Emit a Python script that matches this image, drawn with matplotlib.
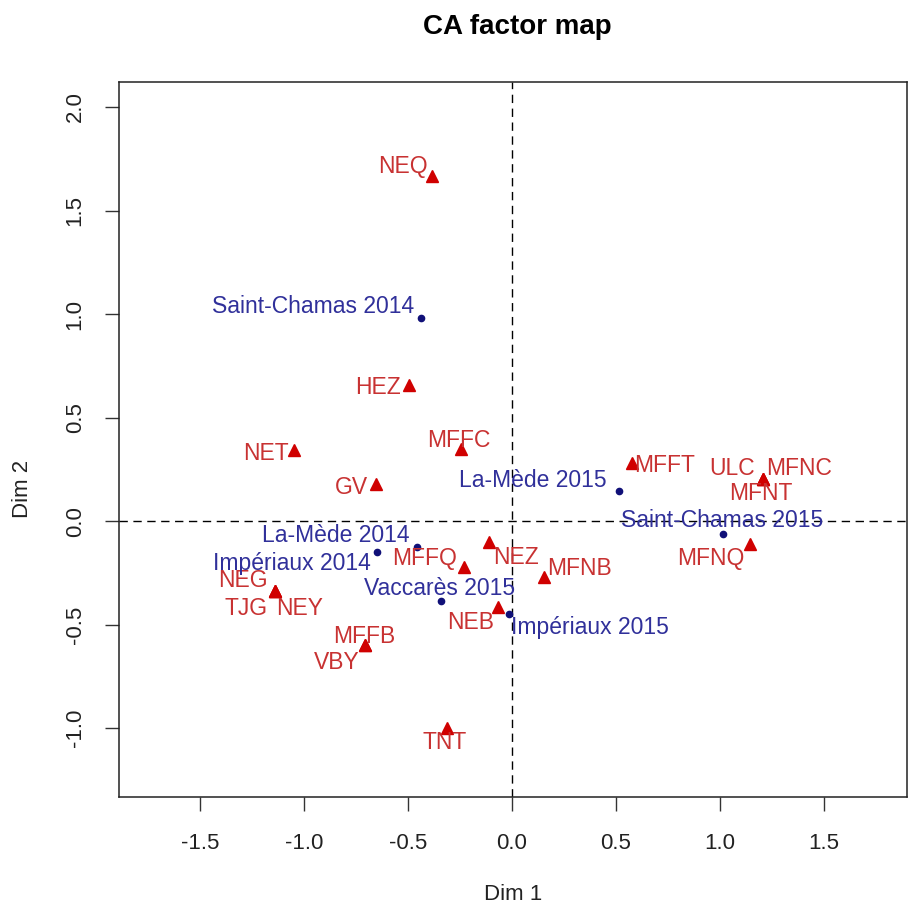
import matplotlib
matplotlib.use("Agg")
import matplotlib.pyplot as plt

# row points (site / year)
row_names = ["Saint-Chamas 2014", "La-Mède 2014", "Impériaux 2014", "Vaccarès 2015",
             "Impériaux 2015", "La-Mède 2015", "Saint-Chamas 2015"]
row_dim1 = [-0.437, -0.457, -0.649, -0.341, -0.014, 0.514, 1.014]
row_dim2 = [0.981, -0.126, -0.150, -0.386, -0.449, 0.145, -0.063]

# column points (species codes)
col_names = ["NEQ", "HEZ", "NET", "MFFC", "GV", "MFFQ", "NEZ", "NEG", "TJG", "NEY",
             "NEB", "MFFB", "VBY", "MFNB", "MFFT", "ULC", "MFNC", "MFNT", "MFNQ", "TNT"]
col_dim1 = [-0.385, -0.495, -1.048, -0.245, -0.654, -0.231, -0.111, -1.139, -1.139, -1.139,
            -0.067, -0.707, -0.707, 0.154, 0.577, 1.207, 1.207, 1.207, 1.144, -0.313]
col_dim2 = [1.667, 0.657, 0.343, 0.348, 0.179, -0.222, -0.101, -0.338, -0.338, -0.338,
            -0.415, -0.599, -0.599, -0.271, 0.280, 0.203, 0.203, 0.203, -0.111, -1.000]

# label placement: (dx px, dy px, alignment) relative to each point
label_pos = {
    "Saint-Chamas 2014": (-7, 11, "right"), "La-Mède 2014": (-7, 12, "right"),
    "Impériaux 2014": (-6, -11, "right"), "Vaccarès 2015": (-1, 12, "center"),
    "Impériaux 2015": (2, -13, "left"), "La-Mède 2015": (-12, 11, "right"),
    "Saint-Chamas 2015": (-1, 14, "center"),
    "NEQ": (-4, 9, "right"), "HEZ": (-8, -2, "right"), "NET": (-5, -3, "right"),
    "MFFC": (-2, 9, "center"), "GV": (-8, -3, "right"), "MFFQ": (-7, 9, "right"),
    "NEZ": (4, -16, "left"), "NEG": (-7, 11, "right"), "TJG": (-7, -17, "right"),
    "NEY": (1, -17, "left"), "NEB": (-4, -16, "right"), "MFFB": (-1, 9, "center"),
    "VBY": (-5, -17, "right"), "MFNB": (3, 9, "left"), "MFFT": (2, -2, "left"),
    "ULC": (-8, 11, "right"), "MFNC": (3, 11, "left"), "MFNT": (-2, -14, "center"),
    "MFNQ": (-5, -14, "right"), "TNT": (-2, -14, "center"),
}

plt.rcParams["font.family"] = ["Liberation Sans", "DejaVu Sans"]

fig = plt.figure(figsize=(9.1, 9.09), dpi=100)
ax = fig.add_axes([0.1308, 0.1232, 0.8659, 0.7866])

ax.axhline(0, color="black", lw=1.0, ls=(0, (6, 4)), zorder=1)
ax.axvline(0, color="black", lw=1.0, ls=(0, (6, 4)), zorder=1)

ax.plot(col_dim1, col_dim2, ls="none", marker="^", ms=8, color="#d00000", zorder=3)
ax.plot(row_dim1, row_dim2, ls="none", marker="o", ms=4.5, color="#101078", zorder=3)

for name, x, y in zip(col_names, col_dim1, col_dim2):
    dx, dy, ha = label_pos[name]
    ax.annotate(name, (x, y), xytext=(dx, dy), textcoords="offset pixels",
                ha=ha, va="center", fontsize=16.5, color="#c83232", zorder=4)
for name, x, y in zip(row_names, row_dim1, row_dim2):
    dx, dy, ha = label_pos[name]
    ax.annotate(name, (x, y), xytext=(dx, dy), textcoords="offset pixels",
                ha=ha, va="center", fontsize=16.5, color="#30309a", zorder=4)

ax.set_xlim(-1.889, 1.899)
ax.set_ylim(-1.333, 2.121)
ax.set_xticks([-1.5, -1.0, -0.5, 0.0, 0.5, 1.0, 1.5])
ax.set_yticks([-1.0, -0.5, 0.0, 0.5, 1.0, 1.5, 2.0])
ax.set_xticklabels(["-1.5", "-1.0", "-0.5", "0.0", "0.5", "1.0", "1.5"])
ax.set_yticklabels(["-1.0", "-0.5", "0.0", "0.5", "1.0", "1.5", "2.0"],
                   rotation=90, va="center")
ax.tick_params(axis="both", length=10, width=1.0, labelsize=16, color="#333333",
               labelcolor="#222222")
ax.tick_params(axis="x", pad=16)
ax.tick_params(axis="y", pad=14)
for s in ax.spines.values():
    s.set_linewidth(1.1)
    s.set_color("#222222")

ax.set_xlabel("Dim 1", fontsize=16, color="#222222", va="center")
ax.set_ylabel("Dim 2", fontsize=16, color="#222222", va="center")
ax.xaxis.set_label_coords(0.5, -0.137)
ax.yaxis.set_label_coords(-0.1225, 0.431)
fig.suptitle("CA factor map", fontsize=20, fontweight="bold", x=0.5687, y=0.985)

fig.savefig("out.png", dpi=100)
